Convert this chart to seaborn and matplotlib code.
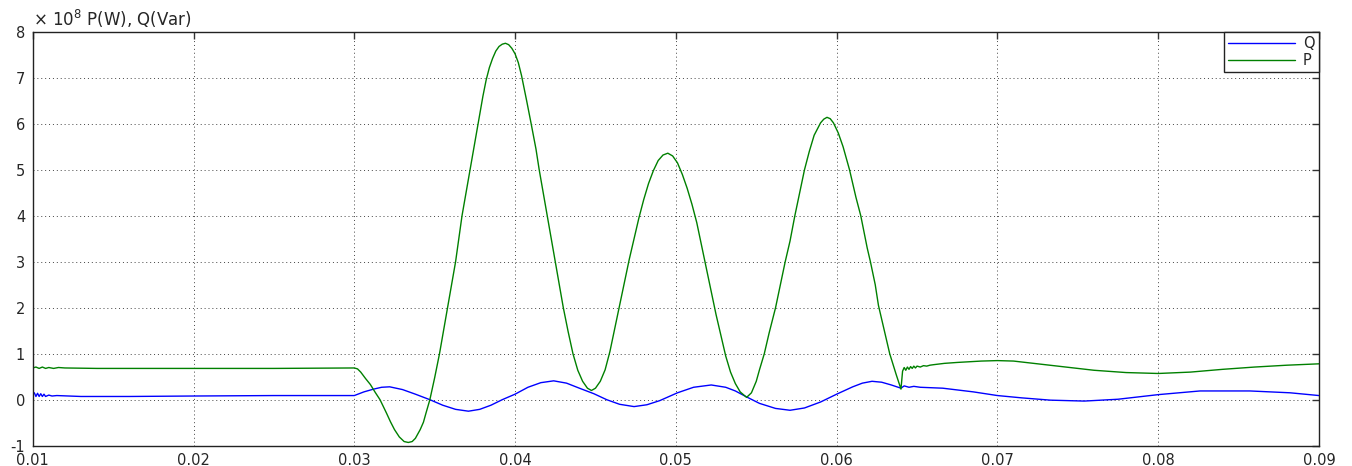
import numpy as np
import pandas as pd
import matplotlib
matplotlib.use("Agg")
import matplotlib.pyplot as plt
import seaborn as sns

# time (s) and power values (x 1e8)
t_q = [0.0100, 0.0101, 0.0102, 0.0103, 0.0104, 0.0105, 0.0106, 0.0107, 0.0108, 0.0110,
       0.0112, 0.0115, 0.0130, 0.0160, 0.0200, 0.0250, 0.0300, 0.0306, 0.0312, 0.0317,
       0.0322, 0.0330, 0.0338, 0.0347, 0.0355, 0.0363, 0.0371, 0.0378, 0.0385, 0.0392,
       0.0400, 0.0408, 0.0416, 0.0424, 0.0432, 0.0440, 0.0449, 0.0457, 0.0465, 0.0474,
       0.0482, 0.0490, 0.0501, 0.0511, 0.0522, 0.0531, 0.0537, 0.0544, 0.0552, 0.0562,
       0.0571, 0.0580, 0.0590, 0.0600, 0.0610, 0.0616, 0.0622, 0.0628, 0.0634, 0.0640,
       0.0642, 0.0645, 0.0648, 0.0652, 0.0666, 0.0685, 0.0700, 0.0715, 0.0733, 0.0754,
       0.0775, 0.0800, 0.0826, 0.0857, 0.0882, 0.0900]
q_vals = [0.11, 0.15, 0.07, 0.14, 0.07, 0.13, 0.07, 0.12, 0.07, 0.10,
          0.08, 0.09, 0.07, 0.07, 0.08, 0.09, 0.09, 0.17, 0.23, 0.27,
          0.28, 0.22, 0.12, 0.00, -0.12, -0.21, -0.25, -0.21, -0.12, 0.00,
          0.12, 0.27, 0.37, 0.41, 0.36, 0.25, 0.13, 0.00, -0.10, -0.15,
          -0.11, -0.02, 0.15, 0.27, 0.32, 0.27, 0.19, 0.06, -0.08, -0.19,
          -0.23, -0.18, -0.05, 0.12, 0.28, 0.36, 0.40, 0.38, 0.32, 0.25,
          0.30, 0.27, 0.29, 0.27, 0.25, 0.17, 0.09, 0.04, -0.01, -0.03,
          0.01, 0.11, 0.19, 0.19, 0.15, 0.09]

t_p = [0.0100, 0.0102, 0.0104, 0.0106, 0.0108, 0.0110, 0.0113, 0.0116, 0.0120, 0.0140,
       0.0160, 0.0200, 0.0250, 0.0300, 0.0302, 0.0304, 0.0307, 0.0310, 0.0313, 0.0316,
       0.0320, 0.03225, 0.0325, 0.0328, 0.0331, 0.03336, 0.0336, 0.0338, 0.0341, 0.0343,
       0.03446, 0.0347, 0.0350, 0.0353, 0.03555, 0.0358, 0.03605, 0.0363, 0.0365, 0.0367,
       0.03695, 0.0372, 0.03745, 0.0377, 0.0380, 0.0382, 0.0384, 0.0386, 0.0388, 0.0390,
       0.0392, 0.0394, 0.0396, 0.0398, 0.0400, 0.0402, 0.0404, 0.04072, 0.0410, 0.0413,
       0.0415, 0.0418, 0.0420, 0.04225, 0.0425, 0.04275, 0.0430, 0.0433, 0.0436, 0.0439,
       0.0442, 0.0445, 0.04475, 0.0450, 0.0453, 0.0456, 0.0459, 0.0462, 0.0465, 0.0468,
       0.0471, 0.0474, 0.0477, 0.0480, 0.0483, 0.0486, 0.0489, 0.0492, 0.0495, 0.0498,
       0.0501, 0.0504, 0.0507, 0.0510, 0.0513, 0.0516, 0.0519, 0.0522, 0.0525, 0.0528,
       0.0531, 0.0534, 0.0537, 0.0540, 0.0544, 0.0547, 0.0550, 0.0552, 0.0555, 0.0558,
       0.0562, 0.0565, 0.0568, 0.0571, 0.0574, 0.0577, 0.0580, 0.0583, 0.0586, 0.0590,
       0.0592, 0.0594, 0.0596, 0.0598, 0.0601, 0.0604, 0.0608, 0.0612, 0.0615, 0.0619,
       0.0621, 0.0624, 0.0626, 0.0630, 0.0633, 0.0637, 0.0640, 0.0641, 0.0642, 0.0643,
       0.0644, 0.0645, 0.0646, 0.0647, 0.0648, 0.0649, 0.0650, 0.0652, 0.0654, 0.0656,
       0.0658, 0.0660, 0.0667, 0.0675, 0.0690, 0.0700, 0.0710, 0.0720, 0.0740, 0.0760,
       0.0780, 0.0800, 0.0820, 0.0840, 0.0860, 0.0880, 0.0900]
p_vals = [0.69, 0.71, 0.68, 0.71, 0.68, 0.70, 0.68, 0.70, 0.69, 0.68,
          0.68, 0.68, 0.68, 0.69, 0.67, 0.60, 0.46, 0.33, 0.16, 0.00,
          -0.29, -0.48, -0.65, -0.81, -0.91, -0.93, -0.91, -0.84, -0.65, -0.49,
          -0.29, 0.00, 0.48, 1.00, 1.50, 2.00, 2.50, 3.00, 3.50, 4.00,
          4.50, 5.00, 5.50, 6.00, 6.60, 6.95, 7.22, 7.42, 7.58, 7.68,
          7.73, 7.75, 7.72, 7.64, 7.52, 7.33, 7.05, 6.50, 6.00, 5.45,
          5.00, 4.40, 4.00, 3.50, 3.00, 2.50, 2.00, 1.48, 1.00, 0.64,
          0.40, 0.25, 0.20, 0.25, 0.40, 0.65, 1.05, 1.55, 2.05, 2.55,
          3.05, 3.50, 3.95, 4.35, 4.70, 4.98, 5.20, 5.32, 5.36, 5.30,
          5.15, 4.90, 4.60, 4.25, 3.85, 3.35, 2.85, 2.35, 1.85, 1.40,
          0.95, 0.60, 0.35, 0.17, 0.05, 0.15, 0.40, 0.65, 1.00, 1.45,
          2.00, 2.50, 3.00, 3.45, 4.00, 4.50, 5.00, 5.40, 5.75, 6.02,
          6.10, 6.14, 6.11, 6.02, 5.80, 5.50, 5.00, 4.40, 4.00, 3.30,
          3.00, 2.50, 2.05, 1.45, 1.00, 0.55, 0.23, 0.62, 0.70, 0.64,
          0.71, 0.66, 0.72, 0.68, 0.73, 0.69, 0.73, 0.71, 0.74, 0.73,
          0.75, 0.76, 0.79, 0.81, 0.84, 0.85, 0.84, 0.80, 0.72, 0.64,
          0.59, 0.57, 0.60, 0.66, 0.71, 0.75, 0.78]

x_ticks = [0.01, 0.02, 0.03, 0.04, 0.05, 0.06, 0.07, 0.08, 0.09]
y_ticks = [-1, 0, 1, 2, 3, 4, 5, 6, 7, 8]

df = pd.concat([
    pd.DataFrame({"t": t_q, "val": q_vals, "sig": "Q"}),
    pd.DataFrame({"t": t_p, "val": p_vals, "sig": "P"}),
])

sns.set_style("white")
plt.rcParams["font.family"] = ["DejaVu Sans"]

fig = plt.figure(figsize=(13.52, 4.66), dpi=100)
ax = fig.add_axes([0.0242, 0.0436, 0.9514, 0.8882])

sns.lineplot(data=df, x="t", y="val", hue="sig", hue_order=["Q", "P"],
             palette={"Q": "#0000ff", "P": "#008000"}, estimator=None,
             sort=False, linewidth=1.0, ax=ax)

ax.set_xlim(0.01, 0.09)
ax.set_ylim(-1, 8)
ax.set_xticks(x_ticks)
ax.set_xticklabels([f"{v:.2f}" for v in x_ticks])
ax.set_yticks(y_ticks)
ax.set_yticklabels([str(v) for v in y_ticks])
ax.set_xlabel("")
ax.set_ylabel("")

ax.grid(True, color="#444444", linestyle=(0, (1, 3)), linewidth=0.7)
ax.tick_params(direction="in", length=5, width=1, top=True, right=True,
               labelsize=10.5, color="#333333")
ax.tick_params(axis="x", pad=5)
ax.tick_params(axis="y", pad=5.5)
for s in ax.spines.values():
    s.set_color("#222222")
    s.set_linewidth(1.0)

ax.text(0.0, 1.004, "\u00d7 10$^{8}$ P(W), Q(Var)", transform=ax.transAxes,
        ha="left", va="bottom", fontsize=12)

leg = ax.legend(loc="upper right", borderaxespad=0, fancybox=False,
                edgecolor="#222222", framealpha=1, fontsize=10.5,
                handlelength=4.6, handletextpad=0.55, labelspacing=0.12,
                borderpad=0.3, title=None)
leg.get_frame().set_linewidth(1.0)

fig.savefig("out.png", dpi=100)
